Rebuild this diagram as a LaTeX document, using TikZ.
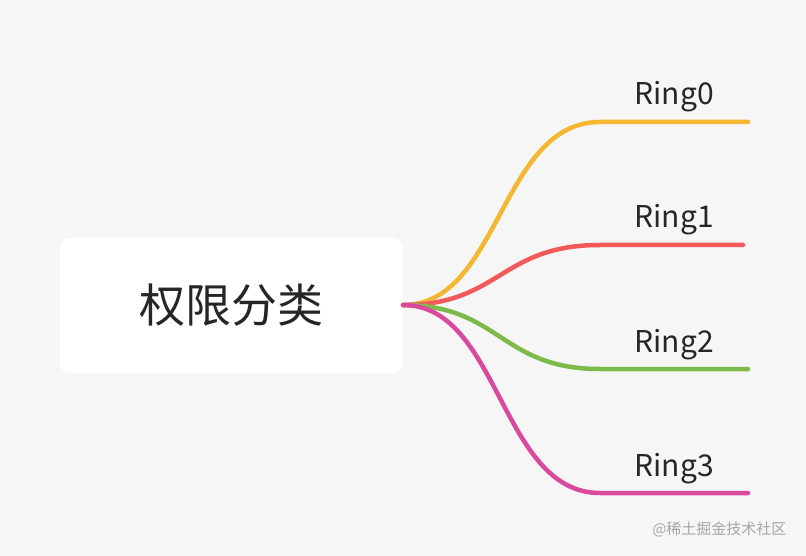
\documentclass[tikz,border=0pt]{standalone}
\usepackage{fontspec}
\setmainfont{Noto Sans CJK SC}
\definecolor{bgcol}{HTML}{F6F6F6}
\definecolor{ringa}{HTML}{F5B731}
\definecolor{ringb}{HTML}{F25A5A}
\definecolor{ringc}{HTML}{7CBA4A}
\definecolor{ringd}{HTML}{D94A9E}
\begin{document}
\begin{tikzpicture}[x=1pt,y=-1pt,
  branch/.style={line width=4.5pt,line cap=round},
  ringlabel/.style={font=\fontsize{30}{30}\selectfont,text=black!85,anchor=base west}]
\fill[bgcol] (0,0) rectangle (806,556);
\useasboundingbox (0,0) rectangle (806,556);
\node[fill=white,rounded corners=10pt,minimum width=343pt,minimum height=135pt,
  font=\fontsize{46}{46}\selectfont,text=black!85] (root) at (231.5,305.5) {权限分类};
\coordinate (hub) at (403,305);
\foreach \y/\c/\n/\e in {122/ringa/0/748, 245/ringb/1/743, 369/ringc/2/748, 493/ringd/3/748} {
  \coordinate (S\n) at (600,\y);
  \coordinate (E\n) at (\e,\y);
  \draw[branch,\c] (hub) .. controls (500,305) and (500,\y) .. (S\n) -- (E\n);
  \node[ringlabel] (R\n) at (631,\y-17) {Ring\n};
}
\node[anchor=base east,text=black!35,font=\fontsize{15}{15}\selectfont] (mark) at (790,534) {@稀土掘金技术社区};
\end{tikzpicture}
\end{document}
